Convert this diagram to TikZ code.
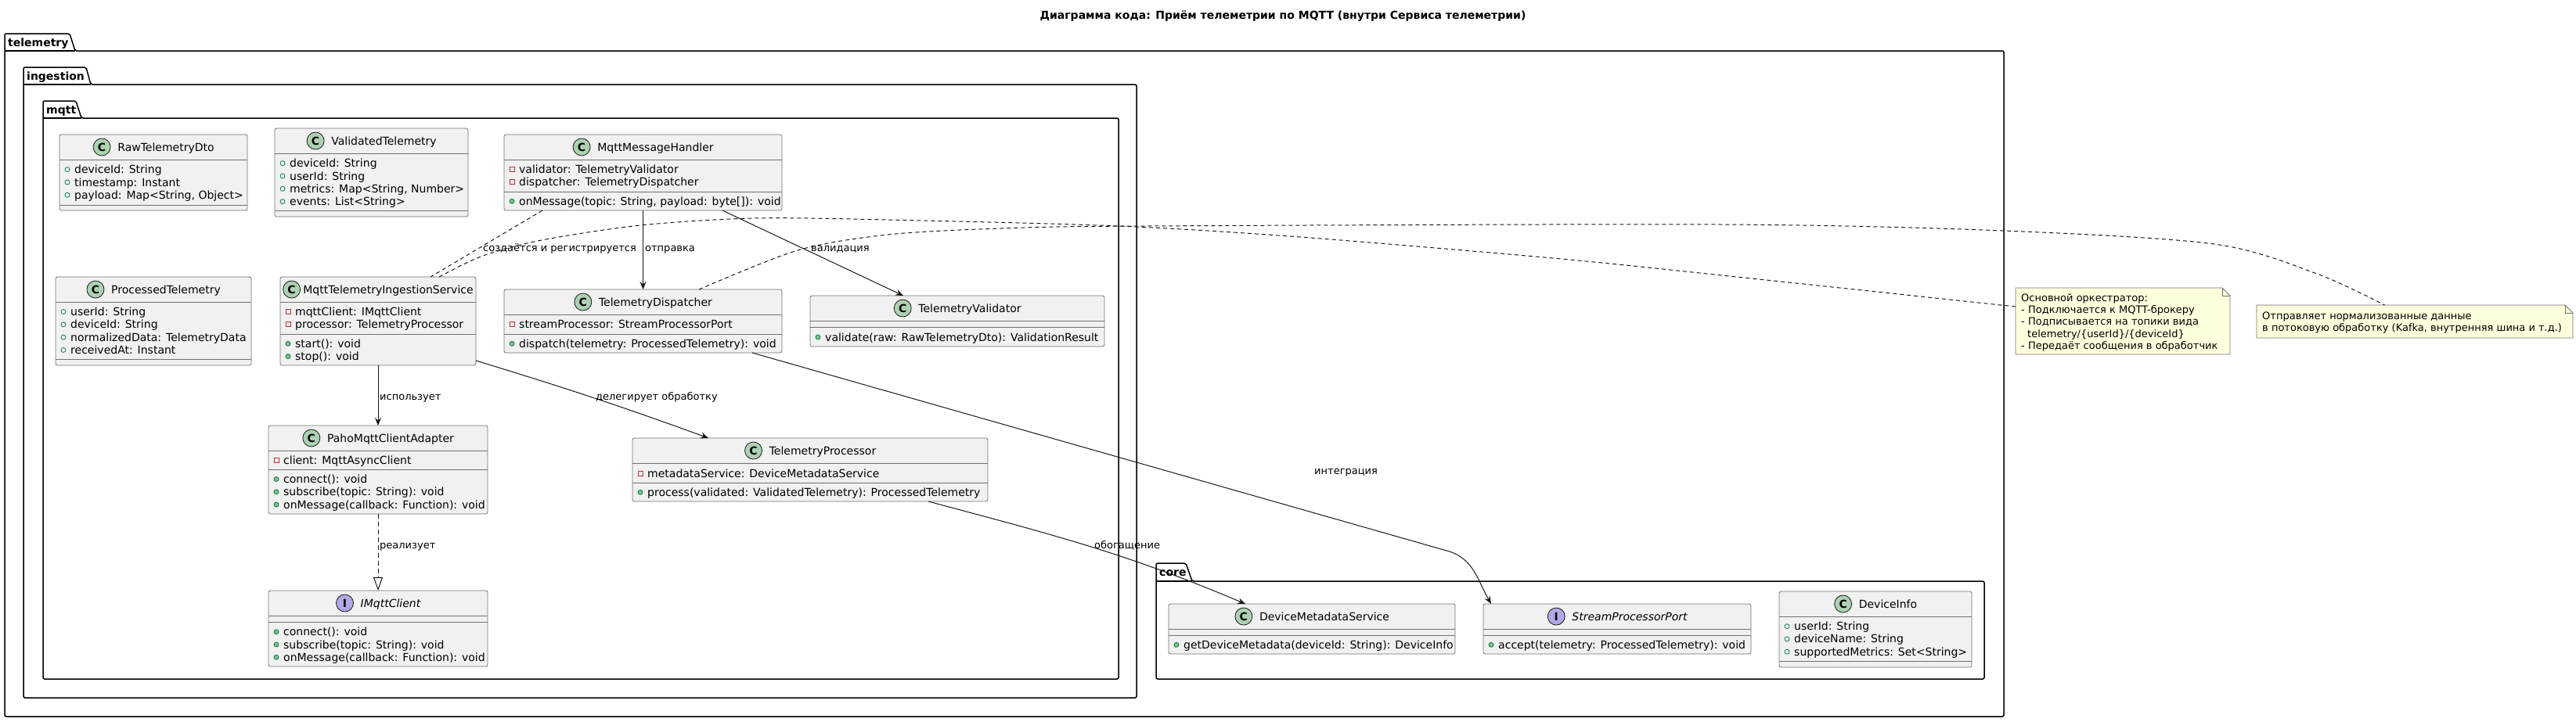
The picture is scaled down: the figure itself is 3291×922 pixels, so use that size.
\documentclass[tikz,border=0pt]{standalone}
\usepackage{fontspec}
\setmainfont{DejaVu Sans}
\usetikzlibrary{arrows.meta,calc}
\definecolor{boxfill}{HTML}{F1F1F1}
\definecolor{boxline}{HTML}{181818}
\definecolor{boxgray}{HTML}{727272}
\definecolor{cicon}{HTML}{ADD1B2}
\definecolor{iicon}{HTML}{B4A7E5}
\definecolor{pubgreen}{HTML}{038048}
\definecolor{pubfill}{HTML}{84BE84}
\definecolor{privred}{HTML}{C82930}
\definecolor{notefill}{HTML}{FEFFDD}
\tikzset{
 clsbox/.style={draw=boxgray, line width=0.8pt, fill=boxfill, rounded corners=2.5pt, inner sep=0pt, outer sep=0pt, rectangle},
 sepline/.style={draw=boxgray, line width=0.8pt},
 ttl/.style={inner sep=0pt, text height=10pt, text depth=0pt, font=\fontsize{14}{16}\selectfont},
 ico/.style={circle, draw=boxline, line width=0.8pt, minimum size=22pt, inner sep=0pt, font=\fontsize{14}{14}\selectfont\bfseries},
 icoC/.style={fill=cicon},
 icoI/.style={fill=iicon},
 row/.style={anchor=base west, inner sep=0pt, font=\fontsize{14}{16}\selectfont},
 pkg/.style={draw=black, line width=1.5pt},
 pkgname/.style={anchor=base west, inner sep=0pt, font=\fontsize{14}{16}\selectfont\bfseries},
 lbl/.style={anchor=base west, inner sep=0pt, font=\fontsize{13}{15}\selectfont},
 notetxt/.style={anchor=base west, inner sep=0pt, font=\fontsize{13}{15}\selectfont},
 notebox/.style={rectangle, inner sep=0pt, outer sep=0pt, anchor=north west},
 noteline/.style={draw=boxgray, line width=0.8pt},
 conn/.style={draw=boxline, line width=1pt},
 arr/.style={conn, -{Stealth[length=10pt,width=8pt,inset=3.5pt]}},
 dashconn/.style={conn, dash pattern=on 5pt off 4pt},
 realize/.style={conn, dash pattern=on 6pt off 4pt, -{Triangle[open,length=17pt,width=12pt]}},
}
\newcount\umlrow
\def\umltshift{16}
\def\umligap{20pt}
\newcommand\umlrowtext[3]{\global\advance\umlrow by 1 \node[row] (row\the\umlrow) at (#1+19,#2+5) {#3};}
\newcommand\umlpf[3]{\draw[pubgreen, line width=0.8pt] (#1+10,#2) circle (3pt); \umlrowtext{#1}{#2}{#3}}
\newcommand\umlvf[3]{\draw[privred, line width=0.8pt] (#1+7,#2-3) rectangle (#1+13,#2+3); \umlrowtext{#1}{#2}{#3}}
\newcommand\umlpm[3]{\draw[pubgreen, fill=pubfill, line width=0.8pt] (#1+10,#2) circle (3pt); \umlrowtext{#1}{#2}{#3}}
\newcommand\umlcls[9]{%
  \node[clsbox, minimum width={(#4)-(#2)}, minimum height={(#5)-(#3)}] (#1) at ({((#2)+(#4))/2},{((#3)+(#5))/2}) {};
  \draw[sepline] (#2,#6) -- (#4,#6);
  \draw[sepline] (#2,#7) -- (#4,#7);
  \node[ttl] (#1-t) at ({((#2)+(#4))/2+\umltshift},{((#3)+(#6))/2}) {#9};
  \node[ico, ico#8] (#1-i) at ([xshift=-\umligap]#1-t.west) {#8};
}
\newcommand\umlpkg[9]{%
  \draw[pkg, rounded corners=2pt] (#2,#6) -- (#2,#3) -- (#4,#3) -- (#5,#6) -- (#7,#6) -- (#7,#8) -- (#2,#8) -- cycle;
  \draw[pkg] (#2,#6) -- (#5,#6);
  \node[pkgname] (#1) at (#2+4,{((#3)+(#6))/2+5}) {#9};
}
\begin{document}
\begin{tikzpicture}[x=1pt,y=-1pt]
\useasboundingbox (0,0) rectangle (3291,922);
% title
\node[anchor=base, inner sep=0pt, font=\fontsize{14}{16}\selectfont\bfseries] (title) at (1639,24) {Диаграмма кода: Приём телеметрии по MQTT (внутри Сервиса телеметрии)};
% packages
\umlpkg{pk-tel}{6}{43}{89}{96}{65}{2560}{916}{telemetry}
\umlpkg{pk-ing}{30}{86}{110}{116}{108}{1452}{892}{ingestion}
\umlpkg{pk-mqtt}{55}{129}{97}{104}{151}{1429}{868}{mqtt}
\umlpkg{pk-core}{1477}{720}{1515}{1523}{743}{2535}{868}{core}
% classes
\umlcls{raw}{76}{172}{316}{269}{204}{262}{C}{RawTelemetryDto}
\umlpf{76}{216.7}{deviceId: String}
\umlpf{76}{233}{timestamp: Instant}
\umlpf{76}{249.3}{payload: Map<String, Object>}
\umlcls{valid}{351}{164}{598}{277}{196}{269}{C}{ValidatedTelemetry}
\umlpf{351}{208.7}{deviceId: String}
\umlpf{351}{225}{userId: String}
\umlpf{351}{241.3}{metrics: Map<String, Number>}
\umlpf{351}{257.6}{events: List<String>}
\umlcls{handler}{644}{172}{999}{269}{204}{245}{C}{MqttMessageHandler}
\umlvf{644}{216.5}{validator: TelemetryValidator}
\umlvf{644}{232.8}{dispatcher: TelemetryDispatcher}
\umlpm{644}{257.3}{onMessage(topic: String, payload: byte[]): void}
\umlcls{proct}{71}{354}{321}{467}{386}{459}{C}{ProcessedTelemetry}
\umlpf{71}{398.5}{userId: String}
\umlpf{71}{414.8}{deviceId: String}
\umlpf{71}{431.1}{normalizedData: TelemetryData}
\umlpf{71}{447.4}{receivedAt: Instant}
\def\umltshift{13}\def\umligap{14.5pt}
\umlcls{svc}{358}{354}{608}{467}{386}{427}{C}{MqttTelemetryIngestionService}
\def\umltshift{16}\def\umligap{20pt}
\umlvf{358}{398.5}{mqttClient: IMqttClient}
\umlvf{358}{414.8}{processor: TelemetryProcessor}
\umlpm{358}{439.3}{start(): void}
\umlpm{358}{455.6}{stop(): void}
\umlcls{disp}{644}{370}{999}{451}{402}{427}{C}{TelemetryDispatcher}
\umlvf{644}{414.8}{streamProcessor: StreamProcessorPort}
\umlpm{644}{439.3}{dispatch(telemetry: ProcessedTelemetry): void}
\umlcls{validator}{1035}{378}{1411}{443}{410}{418}{C}{TelemetryValidator}
\umlpm{1035}{431}{validate(raw: RawTelemetryDto): ValidationResult}
\umlcls{paho}{343}{544}{623}{657}{576}{600}{C}{PahoMqttClientAdapter}
\umlvf{343}{588.5}{client: MqttAsyncClient}
\umlpm{343}{612.5}{connect(): void}
\umlpm{343}{628.8}{subscribe(topic: String): void}
\umlpm{343}{645.1}{onMessage(callback: Function): void}
\umlcls{proc}{808}{560}{1262}{641}{592}{617}{C}{TelemetryProcessor}
\umlvf{808}{605}{metadataService: DeviceMetadataService}
\umlpm{808}{629.3}{process(validated: ValidatedTelemetry): ProcessedTelemetry}
\umlcls{imqtt}{343}{755}{623}{852}{787}{795}{I}{\itshape IMqttClient}
\umlpm{343}{807.8}{connect(): void}
\umlpm{343}{824}{subscribe(topic: String): void}
\umlpm{343}{840.2}{onMessage(callback: Function): void}
\umlcls{dms}{1493}{772}{1859}{836}{804}{812}{C}{DeviceMetadataService}
\umlpm{1493}{824.3}{getDeviceMetadata(deviceId: String): DeviceInfo}
\umlcls{port}{1895}{772}{2237}{836}{804}{812}{I}{\itshape StreamProcessorPort}
\umlpm{1895}{824.3}{accept(telemetry: ProcessedTelemetry): void}
\umlcls{devinfo}{2273}{756}{2519}{853}{788}{845}{C}{DeviceInfo}
\umlpf{2273}{800.6}{userId: String}
\umlpf{2273}{816.9}{deviceName: String}
\umlpf{2273}{833.2}{supportedMetrics: Set<String>}
% notes
\node[notebox, minimum width=274, minimum height=85] (note1) at (2575,368) {};
\draw[noteline, fill=notefill] (note1.north west) -- ([xshift=-10pt]note1.north east) -- ([yshift=-10pt]note1.north east) -- (note1.south east) -- (note1.south west) -- cycle;
\draw[noteline] ([xshift=-10pt]note1.north east) -- ([xshift=-10pt,yshift=-10pt]note1.north east) -- ([yshift=-10pt]note1.north east);
\node[notetxt] (n1a) at (2582,385.5) {Основной оркестратор:};
\node[notetxt] (n1b) at (2582,400.7) {- Подключается к MQTT-брокеру};
\node[notetxt] (n1c) at (2582,415.9) {- Подписывается на топики вида};
\node[notetxt] (n1d) at (2590,431.1) {telemetry/\{userId\}/\{deviceId\}};
\node[notetxt] (n1e) at (2582,446.3) {- Передаёт сообщения в обработчик};
\node[notebox, minimum width=404, minimum height=42] (note2) at (2883,390) {};
\draw[noteline, fill=notefill] (note2.north west) -- ([xshift=-10pt]note2.north east) -- ([yshift=-10pt]note2.north east) -- (note2.south east) -- (note2.south west) -- cycle;
\draw[noteline] ([xshift=-10pt]note2.north east) -- ([xshift=-10pt,yshift=-10pt]note2.north east) -- ([yshift=-10pt]note2.north east);
\node[notetxt] (n2a) at (2890,408.5) {Отправляет нормализованные данные};
\node[notetxt] (n2b) at (2890,423.2) {в потоковую обработку (Kafka, внутренняя шина и т.д.)};
% connectors
\draw[arr] (handler.south) -- (disp.north);
\draw[arr] ([xshift=101.5pt]handler.south) -- ([xshift=-69pt]validator.north);
\draw[dashconn] ([xshift=-128.5pt]handler.south) -- ([xshift=67pt]svc.north);
\draw[arr] (svc.south) -- (paho.north);
\draw[arr] ([yshift=-50.5pt]svc.east) to[out=-17,in=160] ([xshift=-130pt]proc.north);
\draw[realize] (paho.south) -- (imqtt.north);
\draw[arr] ([xshift=151pt]proc.south) to[out=-15,in=157] ([xshift=-85pt]dms.north);
\coordinate (dp1) at (1850,704.5);
\draw[arr] ([xshift=139.5pt]disp.south) -- (dp1) to[out=-16,in=120] ([xshift=-161pt]port.north);
% note connectors
\coordinate (ca1) at (617,327);
\coordinate (ca2) at (692,307);
\coordinate (ca3) at (818,288);
\coordinate (ca4) at (962,279);
\coordinate (ca5) at (1134,281);
\coordinate (ca6) at (1430,289);
\coordinate (ca7) at (1661,303);
\coordinate (ca8) at (1984,330);
\coordinate (ca9) at (2200,352);
\draw[dashconn] plot[smooth, tension=0.5] coordinates {([xshift=78pt]svc.north) (ca1) (ca2) (ca3) (ca4) (ca5) (ca6) (ca7) (ca8) (ca9) ([yshift=18.5pt]note1.west)};
\coordinate (cb1) at (1019,320);
\coordinate (cb2) at (1134,300);
\coordinate (cb3) at (1278,292);
\coordinate (cb4) at (1460,289);
\coordinate (cb5) at (2200,287);
\coordinate (cb6) at (2560,295);
\coordinate (cb7) at (2829,312);
\coordinate (cb8) at (2960,350);
\draw[dashconn] plot[smooth, tension=0.5] coordinates {([xshift=71.5pt]disp.north) (cb1) (cb2) (cb3) (cb4) (cb5) (cb6) (cb7) (cb8) ([xshift=-38.5pt]note2.north)};
% labels
\node[lbl] (l-create) at (617,321.5) {создаётся и регистрируется};
\node[lbl] (l-send) at (824,321.5) {отправка};
\node[lbl] (l-valid) at (1036,321.5) {валидация};
\node[lbl] (l-use) at (485,511.5) {использует};
\node[lbl] (l-deleg) at (761,511.5) {делегирует обработку};
\node[lbl] (l-impl) at (485,701.5) {реализует};
\node[lbl] (l-enrich) at (1398,701.5) {обогащение};
\node[lbl] (l-integ) at (1679,606.5) {интеграция};
\end{tikzpicture}
\end{document}
